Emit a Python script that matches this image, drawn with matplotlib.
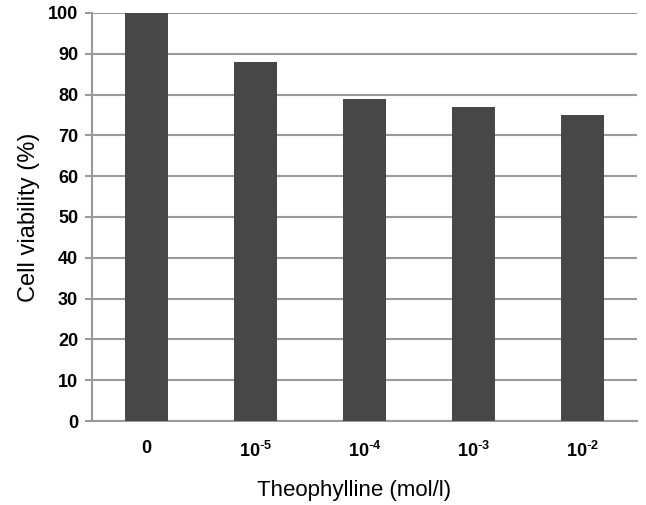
import matplotlib
matplotlib.use("Agg")
import matplotlib.pyplot as plt

# data
categories = ["0", r"10$^{\text{-}5}$", r"10$^{\text{-}4}$", r"10$^{\text{-}3}$", r"10$^{\text{-}2}$"]
viability = [100, 88, 79, 77, 75]

plt.rcParams["font.family"] = ["Liberation Sans", "DejaVu Sans"]
plt.rcParams["mathtext.default"] = "regular"

fig = plt.figure(figsize=(6.46, 5.05), dpi=100)
ax = fig.add_axes([0.1424, 0.1663, 0.8436, 0.808])

x = range(len(categories))
ax.bar(x, viability, width=0.4, color="#474747", zorder=3)

ax.set_xlim(-0.5, len(categories) - 0.5)
ax.set_ylim(0, 100)
ax.set_yticks(range(0, 101, 10))
ax.set_xticks(list(x))
ax.set_xticklabels(categories)

ax.grid(axis="y", color="#9a9a9a", linewidth=1.5, zorder=0)
for side in ["top", "right"]:
    ax.spines[side].set_visible(False)
for side in ["left", "bottom"]:
    ax.spines[side].set_color("#9a9a9a")
    ax.spines[side].set_linewidth(1.5)

ax.tick_params(axis="y", length=5, width=1.5, color="#9a9a9a", labelsize=13, pad=5)
ax.tick_params(axis="x", length=0, labelsize=13, pad=14)
for lbl in ax.get_yticklabels() + ax.get_xticklabels():
    lbl.set_fontweight("bold")

ax.set_ylabel("Cell viability (%)", fontsize=17, labelpad=6)
ax.set_xlabel("Theophylline (mol/l)", fontsize=16, labelpad=14)
ax.xaxis.label.set_x(0.48)

fig.savefig("out.png", dpi=100)
